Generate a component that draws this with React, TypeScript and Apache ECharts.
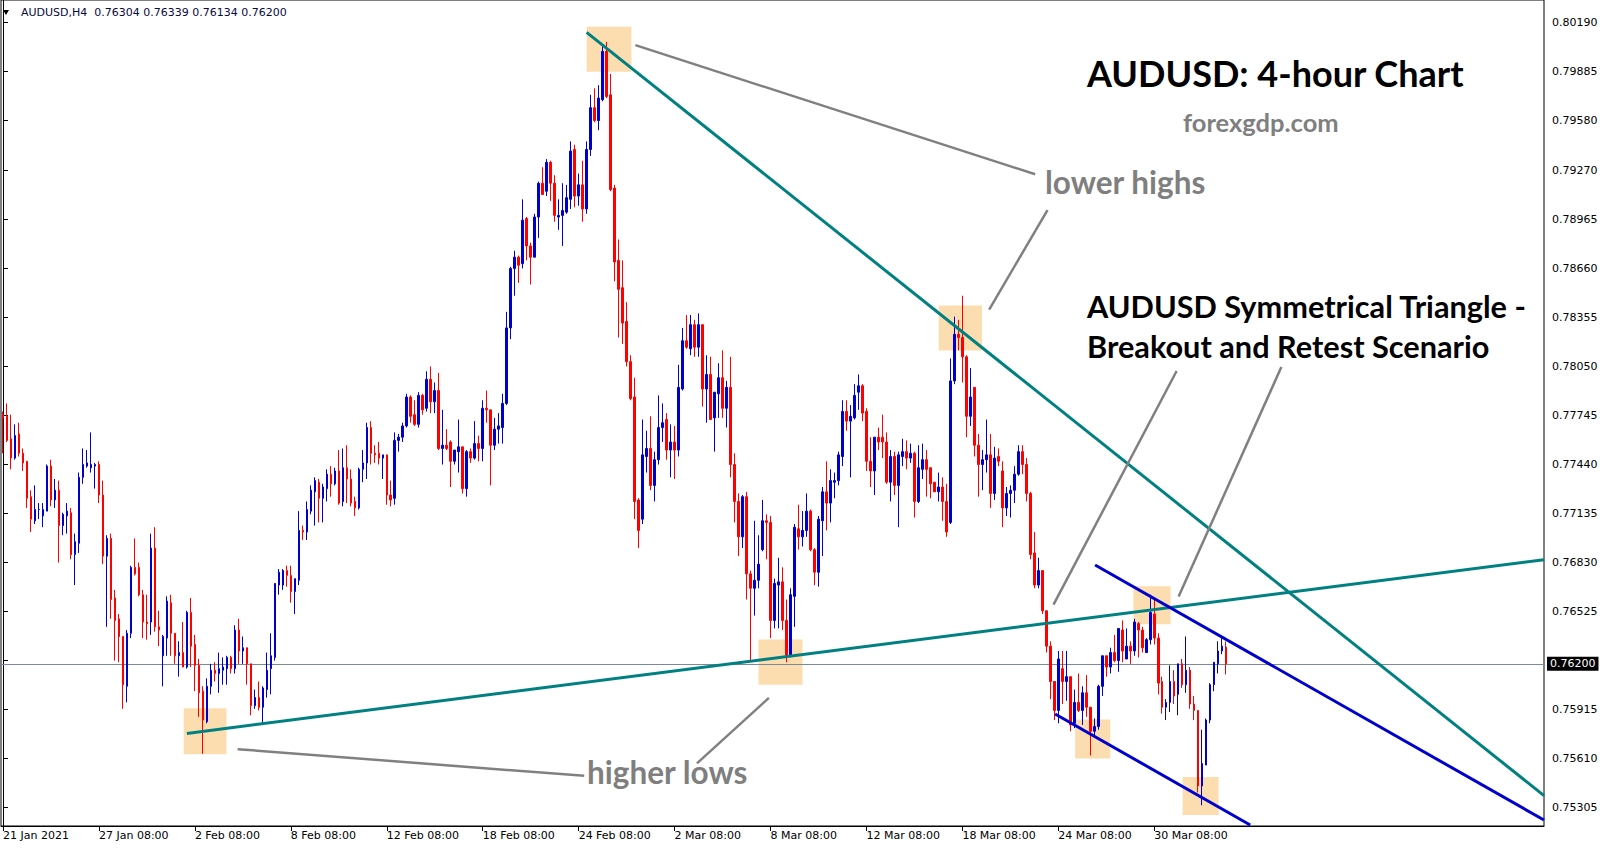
import React, { useEffect, useRef } from "react";
import * as echarts from "echarts";

// Prices are stored in units of 0.0001 (pips); each candle is [open, close, low, high]
const PIP = 0.0001;

const jan21 = [
  [7775,7773,7751,7777],[7774,7759,7758,7782],[7760,7748,7741,7775],[7748,7762,7747,7769],
  [7763,7751,7749,7770],[7751,7745,7740,7754],[7746,7723,7717,7746],[7724,7710,7702,7728],
  [7709,7716,7707,7731],[7716,7716,7710,7720],[7712,7716,7705,7720],[7715,7743,7715,7744],
  [7743,7722,7718,7747],[7722,7728,7717,7735],[7728,7706,7683,7734],[7706,7713,7700,7714],
  [7712,7715,7701,7720],[7714,7688,7685,7717],[7688,7696,7669,7701],[7695,7736,7689,7739],
  [7736,7744,7732,7754],[7743,7745,7742,7753],[7742,7744,7739,7764],[7743,7744,7729,7745],
];
const jan27 = [
  [7744,7725,7720,7746],[7725,7687,7682,7734],[7687,7698,7643,7700],[7698,7660,7648,7701],
  [7661,7647,7622,7666],[7648,7637,7621,7651],[7637,7607,7592,7637],[7606,7639,7596,7641],
  [7639,7680,7636,7681],[7680,7676,7675,7698],[7680,7663,7662,7683],[7663,7646,7636,7666],
  [7646,7645,7635,7663],[7646,7692,7638,7701],[7692,7643,7640,7705],[7643,7641,7631,7653],
  [7625,7637,7606,7638],[7636,7659,7625,7662],[7658,7639,7625,7663],[7639,7625,7620,7639],
  [7625,7627,7612,7634],[7627,7618,7618,7646],[7618,7652,7617,7653],[7652,7631,7618,7661],
];
const feb02 = [
  [7632,7619,7603,7638],[7619,7602,7587,7623],[7603,7585,7564,7606],[7584,7606,7583,7611],
  [7606,7616,7601,7620],[7616,7614,7609,7621],[7614,7617,7602,7627],[7616,7618,7607,7624],
  [7617,7624,7607,7625],[7624,7617,7614,7625],[7617,7641,7614,7644],[7641,7628,7620,7648],
  [7628,7630,7620,7637],[7630,7620,7607,7630],[7620,7594,7588,7620],[7594,7599,7592,7604],
  [7599,7593,7591,7609],[7593,7605,7583,7606],[7604,7616,7599,7627],[7617,7625,7601,7639],
  [7624,7670,7622,7670],[7669,7677,7663,7679],[7669,7678,7666,7679],[7678,7675,7668,7681],
];
const feb08 = [
  [7675,7665,7658,7681],[7665,7673,7651,7673],[7672,7703,7669,7715],[7703,7702,7697,7706],
  [7702,7716,7697,7721],[7715,7728,7713,7731],[7727,7734,7706,7736],[7733,7723,7708,7735],
  [7723,7730,7708,7732],[7729,7738,7721,7741],[7738,7732,7724,7743],[7732,7740,7731,7742],
  [7740,7720,7719,7753],[7721,7742,7718,7754],[7742,7735,7720,7756],[7735,7720,7718,7741],
  [7721,7717,7712,7724],[7717,7741,7716,7742],[7741,7745,7733,7753],[7745,7767,7735,7770],
  [7767,7751,7744,7771],[7751,7750,7745,7756],[7751,7748,7744,7758],[7748,7750,7735,7750],
];
const feb12 = [
  [7750,7725,7719,7750],[7725,7722,7718,7734],[7723,7759,7719,7764],[7759,7761,7752,7763],
  [7761,7768,7758,7770],[7768,7786,7767,7788],[7786,7774,7770,7787],[7775,7769,7768,7784],
  [7769,7787,7767,7789],[7787,7778,7775,7788],[7779,7797,7777,7802],[7797,7783,7776,7805],
  [7783,7790,7776,7795],[7790,7754,7753,7801],[7754,7756,7744,7778],[7756,7754,7753,7766],
  [7758,7746,7730,7759],[7746,7753,7744,7753],[7752,7755,7739,7772],[7755,7729,7726,7755],
  [7729,7752,7724,7753],[7752,7748,7745,7754],[7748,7757,7747,7771],[7757,7754,7746,7762],
];
const feb18 = [
  [7754,7779,7746,7784],[7779,7778,7770,7790],[7778,7756,7731,7778],[7756,7766,7753,7773],
  [7766,7768,7757,7776],[7767,7782,7757,7788],[7782,7829,7781,7839],[7829,7866,7822,7867],
  [7866,7873,7849,7877],[7873,7868,7857,7874],[7869,7896,7866,7909],[7897,7880,7871,7898],
  [7880,7873,7856,7882],[7873,7898,7873,7900],[7898,7919,7885,7920],[7919,7912,7912,7929],
  [7914,7932,7911,7934],[7932,7919,7908,7933],[7919,7899,7895,7924],[7898,7899,7890,7909],
  [7899,7902,7880,7919],[7901,7910,7900,7918],[7909,7939,7903,7945],[7940,7911,7904,7943],
];
const feb24 = [
  [7911,7918,7905,7925],[7918,7903,7895,7933],[7903,7940,7900,7945],[7940,7966,7936,7974],
  [7966,7958,7957,7978],[7958,7972,7952,7980],[7971,8001,7970,8004],[8001,7973,7972,8007],
  [7974,7915,7914,7987],[7916,7870,7858,7918],[7871,7853,7823,7884],[7854,7832,7819,7871],
  [7833,7808,7805,7845],[7808,7785,7784,7812],[7786,7721,7710,7798],[7722,7703,7692,7723],
  [7710,7750,7707,7772],[7749,7754,7739,7765],[7754,7731,7728,7774],[7731,7747,7721,7752],
  [7747,7767,7744,7787],[7767,7770,7758,7782],[7772,7753,7747,7776],[7753,7758,7736,7769],
];
const mar02 = [
  [7758,7753,7735,7768],[7753,7792,7749,7806],[7791,7821,7790,7829],[7821,7817,7816,7837],
  [7816,7831,7812,7837],[7831,7817,7811,7834],[7817,7831,7811,7838],[7831,7791,7780,7831],
  [7791,7800,7770,7812],[7800,7772,7772,7811],[7773,7789,7752,7789],[7788,7798,7773,7807],
  [7798,7779,7773,7815],[7779,7792,7767,7796],[7792,7744,7736,7811],[7744,7721,7708,7751],
  [7721,7699,7687,7726],[7699,7724,7692,7725],[7724,7676,7660,7727],[7676,7667,7621,7678],
  [7667,7672,7650,7709],[7672,7682,7667,7700],[7691,7709,7690,7722],[7709,7708,7685,7713],
];
const mar08 = [
  [7708,7647,7636,7712],[7647,7670,7642,7673],[7669,7671,7642,7686],[7671,7647,7641,7680],
  [7647,7625,7621,7660],[7625,7663,7624,7667],[7662,7705,7643,7707],[7704,7699,7691,7719],
  [7699,7703,7693,7715],[7703,7715,7699,7726],[7715,7691,7690,7716],[7691,7677,7669,7692],
  [7677,7710,7668,7712],[7709,7727,7687,7730],[7727,7720,7703,7746],[7720,7734,7708,7741],
  [7733,7734,7723,7739],[7734,7750,7731,7752],[7749,7777,7743,7784],[7777,7771,7765,7784],
  [7771,7774,7736,7781],[7773,7787,7772,7794],[7789,7793,7778,7800],[7793,7776,7771,7794],
];
const mar12 = [
  [7777,7746,7740,7779],[7746,7740,7730,7761],[7740,7761,7725,7761],[7761,7758,7753,7767],
  [7761,7758,7748,7775],[7758,7733,7732,7764],[7733,7749,7721,7753],[7749,7731,7725,7752],
  [7731,7750,7705,7752],[7749,7752,7743,7760],[7752,7748,7741,7759],[7748,7751,7745,7757],
  [7751,7721,7711,7752],[7721,7742,7720,7756],[7741,7747,7735,7757],[7747,7741,7724,7753],
  [7742,7732,7723,7742],[7733,7727,7727,7733],[7727,7730,7721,7739],[7730,7721,7709,7736],
  [7721,7702,7699,7732],[7708,7796,7707,7810],[7796,7825,7794,7836],[7825,7823,7815,7834],
];
const mar18 = [
  [7823,7811,7795,7849],[7811,7774,7761,7812],[7774,7786,7768,7804],[7792,7756,7749,7792],
  [7756,7744,7724,7763],[7744,7747,7728,7753],[7747,7750,7739,7772],[7750,7726,7717,7763],
  [7726,7748,7722,7755],[7749,7746,7743,7754],[7740,7717,7705,7746],[7717,7726,7712,7730],
  [7726,7728,7711,7731],[7728,7738,7720,7743],[7738,7752,7737,7756],[7752,7744,7738,7756],
  [7744,7726,7721,7748],[7726,7688,7685,7727],[7689,7669,7667,7702],[7669,7678,7667,7686],
  [7678,7653,7651,7678],[7653,7631,7627,7653],[7631,7609,7598,7634],[7609,7591,7585,7609],
];
const mar24 = [
  [7591,7623,7583,7628],[7617,7609,7595,7628],[7609,7612,7597,7628],[7612,7582,7578,7612],
  [7583,7596,7580,7604],[7596,7591,7590,7614],[7591,7602,7582,7606],[7602,7593,7587,7613],
  [7593,7578,7563,7593],[7578,7581,7574,7586],[7581,7606,7579,7607],[7606,7625,7600,7625],
  [7625,7618,7612,7625],[7618,7627,7614,7630],[7627,7622,7621,7638],[7622,7642,7615,7642],
  [7641,7628,7621,7647],[7623,7631,7623,7642],[7631,7628,7620,7634],[7628,7646,7625,7648],
  [7645,7641,7624,7646],[7641,7630,7627,7643],[7627,7635,7627,7636],[7635,7652,7632,7663],
];
const mar30 = [
  [7651,7636,7632,7660],[7636,7608,7601,7639],[7609,7593,7589,7612],[7593,7596,7585,7598],
  [7596,7609,7590,7619],[7609,7600,7595,7616],[7601,7620,7588,7620],[7620,7607,7605,7623],
  [7607,7616,7602,7637],[7616,7595,7592,7618],[7595,7591,7585,7600],[7591,7544,7540,7591],
  [7544,7558,7532,7579],[7557,7585,7557,7586],[7585,7607,7583,7608],[7607,7621,7603,7621],
  [7620,7628,7614,7634],[7628,7631,7626,7636],[7630.4,7620.0,7613.4,7633.9],
];

const dateLabels = [
  "21 Jan 2021", "27 Jan 08:00", "2 Feb 08:00", "8 Feb 08:00", "12 Feb 08:00",
  "18 Feb 08:00", "24 Feb 08:00", "2 Mar 08:00", "8 Mar 08:00", "12 Mar 08:00",
  "18 Mar 08:00", "24 Mar 08:00", "30 Mar 08:00",
];
const BARS_PER_LABEL = 24;
const SLOT_COUNT = 386; // bar slots visible on the chart (including empty space at right)

const priceTicks = [
  0.8019, 0.79885, 0.7958, 0.7927, 0.78965, 0.7866, 0.78355, 0.7805, 0.77745,
  0.7744, 0.77135, 0.7683, 0.76525, 0.7622, 0.75915, 0.7561, 0.75305,
];
const priceLabels = priceTicks.filter((v) => v !== 0.7622);
const Y_MIN = 0.75191;
const Y_MAX = 0.8033;

// Trend lines: [barIndex, price]
const triangleUpper = [[146.0, 0.80129], [385.5, 0.7538]];
const triangleLower = [[46.0, 0.75767], [385.5, 0.76848]];
const channelUpper = [[273.2, 0.76815], [385.5, 0.75228]];
const channelLower = [[263.2, 0.75888], [312.0, 0.75197]];
const pointerLines = [
  [[158.2, 0.80049], [258.2, 0.79246]],
  [[261.3, 0.79023], [246.7, 0.78404]],
  [[58.7, 0.75669], [145.4, 0.75503]],
  [[191.6, 0.75988], [173.6, 0.75581]],
  [[293.6, 0.78022], [262.8, 0.76568]],
  [[319.8, 0.78047], [294.1, 0.76619]],
];
// Highlight boxes: [fromBar, toBar, topPrice, bottomPrice]
const highlightBoxes = [
  [146.0, 157.2, 0.80164, 0.79884],
  [234.1, 244.9, 0.7843, 0.78149],
  [45.2, 55.9, 0.75924, 0.75637],
  [189.0, 200.0, 0.76351, 0.7607],
  [282.8, 292.1, 0.76683, 0.76446],
  [268.2, 277.0, 0.75853, 0.75611],
  [295.1, 304.1, 0.75496, 0.7526],
];

const candles = [
  ...jan21, ...jan27, ...feb02, ...feb08, ...feb12, ...feb18, ...feb24,
  ...mar02, ...mar08, ...mar12, ...mar18, ...mar24, ...mar30,
].map((c) => c.map((v) => +(v * PIP).toFixed(5)));

export default function App() {
  const ref = useRef<HTMLDivElement>(null);
  useEffect(() => {
    if (!ref.current) return;
    const chart = echarts.init(ref.current, undefined, { renderer: "svg" });
    const last = candles[candles.length - 1];
    const lastClose = last[1];
    const isTick = (index: number) =>
      index % BARS_PER_LABEL === 0 && index / BARS_PER_LABEL < dateLabels.length;
    const axisFont = "DejaVu Sans";
    const lineSeries = (data: number[][], color: string, width: number) => ({
      type: "line",
      xAxisIndex: 1,
      yAxisIndex: 0,
      data,
      showSymbol: false,
      symbol: "none",
      silent: true,
      z: 4,
      lineStyle: { color, width },
    });
    const option: any = {
      animation: false,
      backgroundColor: "#ffffff",
      grid: { left: 1, top: 0, right: 63, bottom: 24, show: true, borderColor: "#000", borderWidth: 1 },
      xAxis: [
        {
          type: "category",
          data: Array.from({ length: SLOT_COUNT }, (_, i) => String(i)),
          boundaryGap: true,
          axisLine: { show: true, lineStyle: { color: "#000", width: 1 } },
          axisTick: { show: true, interval: (i: number) => isTick(i), alignWithLabel: true, length: 5, lineStyle: { color: "#000" } },
          axisLabel: {
            interval: (i: number) => isTick(i),
            formatter: (_v: string, i: number) => dateLabels[Math.round(i / BARS_PER_LABEL)] ?? "",
            align: "left",
            margin: 4,
            color: "#000",
            fontFamily: axisFont,
            fontSize: 11,
          },
          splitLine: { show: false },
        },
        { type: "value", min: -0.5, max: SLOT_COUNT - 0.5, show: false },
      ],
      yAxis: [
        {
          type: "value",
          position: "right",
          min: Y_MIN,
          max: Y_MAX,
          axisLine: { show: true, lineStyle: { color: "#000", width: 1 } },
          axisTick: { show: true, customValues: priceTicks, length: 5, lineStyle: { color: "#000" } },
          axisLabel: {
            customValues: priceLabels,
            formatter: (v: number) => v.toFixed(5),
            color: "#000",
            fontFamily: axisFont,
            fontSize: 11,
            margin: 8,
          },
          splitLine: { show: false },
        },
      ],
      series: [
        {
          type: "line",
          xAxisIndex: 1,
          yAxisIndex: 0,
          data: [],
          silent: true,
          z: 1,
          markArea: {
            silent: true,
            z: 1,
            precision: 5,
            itemStyle: { color: "#FCDDB0" },
            data: highlightBoxes.map((b) => [{ coord: [b[0], b[2]] }, { coord: [b[1], b[3]] }]),
          },
          markLine: {
            silent: true,
            symbol: "none",
            precision: 5,
            z: 2,
            lineStyle: { color: "#7A8A99", width: 1, type: "solid" },
            label: {
              show: true,
              position: "end",
              distance: 3,
              formatter: () => lastClose.toFixed(5),
              backgroundColor: "#000",
              color: "#fff",
              padding: [2, 3, 1, 3],
              fontFamily: axisFont,
              fontSize: 11,
            },
            data: [{ yAxis: lastClose }],
          },
        },
        {
          type: "candlestick",
          xAxisIndex: 0,
          yAxisIndex: 0,
          data: candles,
          barWidth: 2,
          z: 3,
          itemStyle: {
            color: "#0000CD",
            color0: "#FF0000",
            borderColor: "#0000CD",
            borderColor0: "#FF0000",
            borderWidth: 1,
          },
        },
        lineSeries(triangleLower, "#008080", 3),
        lineSeries(triangleUpper, "#008080", 3),
        lineSeries(channelUpper, "#0000CD", 3),
        lineSeries(channelLower, "#0000CD", 3),
        ...pointerLines.map((p) => lineSeries(p, "#808080", 2.5)),
      ],
      graphic: [
        { type: "polygon", shape: { points: [[3, 10], [9, 10], [6, 15]] }, style: { fill: "#000" }, z: 10 },
        {
          type: "text",
          x: 21,
          y: 12.5,
          z: 10,
          style: {
            text: `AUDUSD,H4  ${last[0].toFixed(5)} ${last[3].toFixed(5)} ${last[2].toFixed(5)} ${last[1].toFixed(5)}`,
            font: "11px 'DejaVu Sans'",
            fill: "#0a0a3c",
            textVerticalAlign: "middle",
            verticalAlign: "middle",
          },
        },
        ...[
          { t: "AUDUSD: 4-hour Chart", x: 1087, y: 73, s: 36, c: "#000" },
          { t: "forexgdp.com", x: 1183, y: 122, s: 25.5, c: "#7F7F7F" },
          { t: "lower highs", x: 1045, y: 182, s: 31.5, c: "#7F7F7F" },
          { t: "AUDUSD Symmetrical Triangle -", x: 1087, y: 306.5, s: 30.7, c: "#000" },
          { t: "Breakout and Retest Scenario", x: 1087, y: 346.5, s: 30.7, c: "#000" },
          { t: "higher lows", x: 587, y: 772, s: 31.5, c: "#7F7F7F" },
        ].map((d) => ({
          type: "text",
          x: d.x,
          y: d.y,
          z: 10,
          style: {
            text: d.t,
            font: `bold ${d.s}px Lato`,
            fill: d.c,
            textVerticalAlign: "middle",
            verticalAlign: "middle",
          },
        })),
      ],
    };
    chart.setOption(option);
    return () => chart.dispose();
  }, []);
  return (
    <div
      ref={ref}
      style={{ position: "absolute", left: 0, top: 0, width: 1607, height: 850, background: "#fff" }}
    />
  );
}
